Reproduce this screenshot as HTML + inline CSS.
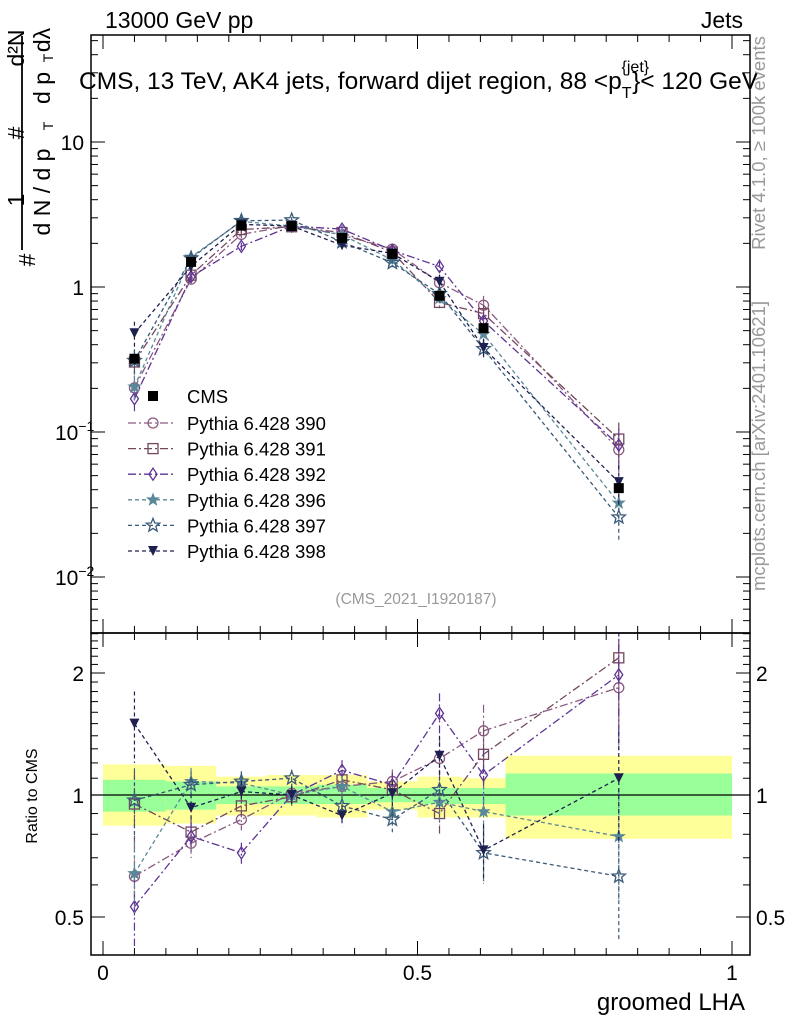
<!DOCTYPE html>
<html><head><meta charset="utf-8"><style>
body{margin:0;background:#fff}
svg{display:block;font-family:"Liberation Sans",sans-serif}
</style></head><body>
<svg id="c" width="786" height="1024" viewBox="0 0 786 1024"></svg>
<script>
const binEdges=[0,0.1,0.18,0.26,0.34,0.42,0.5,0.57,0.64,1.0];
const xPoints=[0.05,0.14,0.22,0.30,0.38,0.46,0.535,0.605,0.82];
const cmsValues=[0.32,1.49,2.65,2.63,2.18,1.69,0.87,0.52,0.041];
const bandYellowUp=[1.19,1.18,1.11,1.12,1.12,1.08,1.11,1.10,1.25];
const bandYellowDn=[0.84,0.85,0.89,0.89,0.88,0.92,0.88,0.88,0.78];
const bandGreenUp=[1.09,1.08,1.05,1.05,1.06,1.04,1.04,1.04,1.13];
const bandGreenDn=[0.91,0.92,0.95,0.95,0.95,0.96,0.95,0.95,0.89];
const ratio390=[0.63,0.76,0.87,1.01,1.05,1.08,1.23,1.44,1.84];
const ratio391=[0.95,0.81,0.94,0.99,1.09,1.03,0.90,1.26,2.18];
const ratio392=[0.53,0.79,0.72,1.00,1.15,1.06,1.59,1.12,1.98];
const ratio396=[0.64,1.08,1.07,1.00,1.05,0.91,0.96,0.91,0.79];
const ratio397=[0.97,1.06,1.08,1.10,0.94,0.87,1.03,0.72,0.63];
const ratio398=[1.50,0.93,1.02,1.00,0.89,1.01,1.25,0.73,1.10];
const relErr=[0.2,0.08,0.06,0.05,0.06,0.07,0.12,0.16,0.3];
const seriesNames=["Pythia 6.428 390","Pythia 6.428 391","Pythia 6.428 392","Pythia 6.428 396","Pythia 6.428 397","Pythia 6.428 398"];

const NS="http://www.w3.org/2000/svg";
const svg=document.getElementById('c');
function el(t,a,p){const e=document.createElementNS(NS,t);for(const k in a)e.setAttribute(k,a[k]);(p||svg).appendChild(e);return e;}
const L=91,R=750,T=35,M=633,B=955;
const X=v=>103+v*629;
const Y=v=>287-Math.log10(v)*145;
const YR=v=>795-Math.log2(v)*122;

const series=[
 {r:ratio390,c:"#8a5a80",d:"8 3 2 3",m:"circle"},
 {r:ratio391,c:"#74485e",d:"8 3 2 3",m:"square"},
 {r:ratio392,c:"#5e3494",d:"8 3 2 3",m:"diamond"},
 {r:ratio396,c:"#5a8898",d:"4 3",m:"star"},
 {r:ratio397,c:"#3a5a78",d:"4 3",m:"ostar"},
 {r:ratio398,c:"#1e2050",d:"4 3",m:"tri"}];

function starPts(cx,cy,R1,R2){let p=[];for(let i=0;i<10;i++){const a=-Math.PI/2+i*Math.PI/5,r=i%2?R2:R1;p.push((cx+r*Math.cos(a)).toFixed(1)+","+(cy+r*Math.sin(a)).toFixed(1));}return p.join(" ");}
function marker(m,x,y,c,g){
 if(m==="circle")return el('circle',{cx:x,cy:y,r:5,fill:'none',stroke:c,'stroke-width':1.3},g);
 if(m==="square")return el('rect',{x:x-5,y:y-5,width:10,height:10,fill:'none',stroke:c,'stroke-width':1.3},g);
 if(m==="diamond")return el('polygon',{points:`${x},${y-6} ${x+4},${y} ${x},${y+6} ${x-4},${y}`,fill:'none',stroke:c,'stroke-width':1.3},g);
 if(m==="star")return el('polygon',{points:starPts(x,y,6,2.5),fill:c,stroke:c},g);
 if(m==="ostar")return el('polygon',{points:starPts(x,y,7,3),fill:'none',stroke:c,'stroke-width':1.3},g);
 if(m==="tri")return el('polygon',{points:`${x-5},${y-5} ${x+5},${y-5} ${x},${y+5}`,fill:c},g);
 if(m==="sq")return el('rect',{x:x-5,y:y-5,width:10,height:10,fill:c},g);
}

const defs=el('defs',{});
const c1=el('clipPath',{id:'cm'},defs);el('rect',{x:L,y:T,width:R-L,height:M-T},c1);
const c2=el('clipPath',{id:'cr'},defs);el('rect',{x:L,y:M,width:R-L,height:B-M},c2);

const gb=el('g',{'clip-path':'url(#cr)'});

for(let i=0;i<xPoints.length;i++){
 const x0=X(binEdges[i]),x1=X(binEdges[i+1]);
 const y=el('rect',{x:x0,y:YR(bandYellowUp[i]),width:x1-x0,height:YR(bandYellowDn[i])-YR(bandYellowUp[i]),fill:'#ffff99'},gb);
 
 const g=el('rect',{x:x0,y:YR(bandGreenUp[i]),width:x1-x0,height:YR(bandGreenDn[i])-YR(bandGreenUp[i]),fill:'#99ff99'},gb);
 
}
el('line',{x1:L,x2:R,y1:YR(1),y2:YR(1),stroke:'#000','stroke-width':1.2});

const gm=el('g',{'clip-path':'url(#cm)'});
const gr=el('g',{'clip-path':'url(#cr)'});
series.forEach((s,si)=>{
 const vals=s.r.map((r,i)=>r*cmsValues[i]);
 const sg=el('g',{},gm);
 const rg=el('g',{},gr);
 el('polyline',{points:xPoints.map((x,i)=>X(x)+","+Y(vals[i])).join(" "),fill:'none',stroke:s.c,'stroke-width':1.3,'stroke-dasharray':s.d},sg);
 el('polyline',{points:xPoints.map((x,i)=>X(x)+","+YR(s.r[i])).join(" "),fill:'none',stroke:s.c,'stroke-width':1.3,'stroke-dasharray':s.d},rg);
 xPoints.forEach((x,i)=>{
  const e=relErr[i];
  el('line',{x1:X(x),x2:X(x),y1:Y(vals[i]*(1+e)),y2:Y(vals[i]*(1-e)),stroke:s.c,'stroke-width':1.2,'stroke-dasharray':s.d},sg);
  el('line',{x1:X(x),x2:X(x),y1:YR(s.r[i]*(1+e)),y2:YR(s.r[i]*(1-e)),stroke:s.c,'stroke-width':1.2,'stroke-dasharray':s.d},rg);
  const m1=marker(s.m,X(x),Y(vals[i]),s.c,sg);
  const m2=marker(s.m,X(x),YR(s.r[i]),s.c,rg);
 });
});
const cg=el('g',{},gm);
xPoints.forEach((x,i)=>{const m=marker('sq',X(x),Y(cmsValues[i]),'#000',cg);});

el('rect',{x:L,y:T,width:R-L,height:M-T,fill:'none',stroke:'#000','stroke-width':1.5});
el('rect',{x:L,y:M,width:R-L,height:B-M,fill:'none',stroke:'#000','stroke-width':1.5});
for(let k=0;k<=20;k++){const v=k*0.05,x=X(v),len=k%10===0?14:7;
 [T,M].forEach(y=>el('line',{x1:x,x2:x,y1:y,y2:y+len,stroke:'#000'}));
 [M,B].forEach(y=>el('line',{x1:x,x2:x,y1:y,y2:y-len,stroke:'#000'}));
}
for(let d=-3;d<=1;d++)for(let m=1;m<10;m++){const v=m*Math.pow(10,d),y=Y(v);if(y<T||y>M)continue;const len=m===1?14:7;
 el('line',{x1:L,x2:L+len,y1:y,y2:y,stroke:'#000'});el('line',{x1:R,x2:R-len,y1:y,y2:y,stroke:'#000'});}
[0.4,0.5,0.6,0.7,0.8,0.9,1,1.1,1.2,1.3,1.4,1.5,1.6,1.7,1.8,1.9,2,2.1,2.2,2.3,2.4,2.5].forEach(v=>{const y=YR(v);if(y<M||y>B)return;const len=(v===0.5||v===1||v===2)?14:7;
 el('line',{x1:L,x2:L+len,y1:y,y2:y,stroke:'#000'});el('line',{x1:R,x2:R-len,y1:y,y2:y,stroke:'#000'});});

function txt(s,a,name){const t=el('text',a);t.textContent=s;return t;}
txt('10',{x:84,y:Y(10)+8,'font-size':21,'text-anchor':'end'},'y-tick-10');
txt('1',{x:84,y:Y(1)+8,'font-size':21,'text-anchor':'end'},'y-tick-1');
const t1=txt('10',{x:55,y:Y(0.1)+8,'font-size':21},'y-tick-0.1');const s1=el('tspan',{dy:-9,'font-size':14},t1);s1.textContent='−1';
const t2=txt('10',{x:55,y:Y(0.01)+8,'font-size':21},'y-tick-0.01');const s2=el('tspan',{dy:-9,'font-size':14},t2);s2.textContent='−2';
[[2,'2'],[1,'1'],[0.5,'0.5']].forEach(([v,s])=>{txt(s,{x:84,y:YR(v)+8,'font-size':21,'text-anchor':'end'},'ratio-tick-left');txt(s,{x:756,y:YR(v)+8,'font-size':21},'ratio-tick-right');});
[[0,'0'],[0.5,'0.5'],[1,'1']].forEach(([v,s])=>txt(s,{x:X(v),y:980,'font-size':21,'text-anchor':'middle'},'x-tick'));
txt('groomed LHA',{x:745,y:1010,'font-size':24,'text-anchor':'end'},'x-axis-title');
txt('Ratio to CMS',{x:0,y:0,'font-size':16,'text-anchor':'middle',transform:'translate(37,796) rotate(-90)'},'ratio-axis-title');
txt('13000 GeV pp',{x:105,y:28,'font-size':23},'beam-label');
txt('Jets',{x:743,y:28,'font-size':23,'text-anchor':'end'},'process-label');
const ti=txt('CMS, 13 TeV, AK4 jets, forward dijet region, 88 <p',{x:79,y:89,'font-size':24.5},'plot-title');
const ts=el('tspan',{'font-size':16,dy:9},ti);ts.textContent='T';
const ts2=el('tspan',{'font-size':16,dy:-26,dx:-10},ti);ts2.textContent='{jet}';
const ts3=el('tspan',{'font-size':24.5,dy:17,dx:-17},ti);ts3.textContent='}< 120 GeV';
txt('Rivet 4.1.0, ≥ 100k events',{x:0,y:0,'font-size':18.5,fill:'#999','text-anchor':'middle',transform:'translate(765,143) rotate(-90)'},'rivet-label');
txt('mcplots.cern.ch [arXiv:2401.10621]',{x:0,y:0,'font-size':18.5,fill:'#999','text-anchor':'middle',transform:'translate(765,446) rotate(-90)'},'mcplots-label');
txt('(CMS_2021_I1920187)',{x:416,y:604,'font-size':15.5,fill:'#999','text-anchor':'middle'},'analysis-id');
const yt=el('g',{});
el('line',{x1:22,x2:22,y1:36,y2:250,stroke:'#000','stroke-width':1.8},yt);
[['#',27,260,23],['1',16,200,23],['#',16,133,23],['d²N',16,48,23],['d N / d p',42,192,23],['T',48,126,14],['d p',42,88,23],['T',48,58,14],['dλ',42,40,23]].forEach(([s,x,y,f])=>{
 const t=el('text',{x:0,y:0,'font-size':f,'text-anchor':'middle',transform:`translate(${x+f*0.35},${y}) rotate(-90)`},yt);t.textContent=s;});
const lg=el('g',{});
const cmsE=el('g',{},lg);
marker('sq',153,396,'#000',cmsE);
const ct=el('text',{x:187,y:403,'font-size':18.5},cmsE);ct.textContent='CMS';
series.forEach((s,i)=>{const y=423+i*25.6;
 const g=el('g',{},lg);
 el('line',{x1:128,x2:176,y1:y,y2:y,stroke:s.c,'stroke-width':1.3,'stroke-dasharray':s.d},g);
 marker(s.m,153,y,s.c,g);
 const t=el('text',{x:187,y:y+7,'font-size':18.5},g);t.textContent=seriesNames[i];});
</script>
</body></html>
